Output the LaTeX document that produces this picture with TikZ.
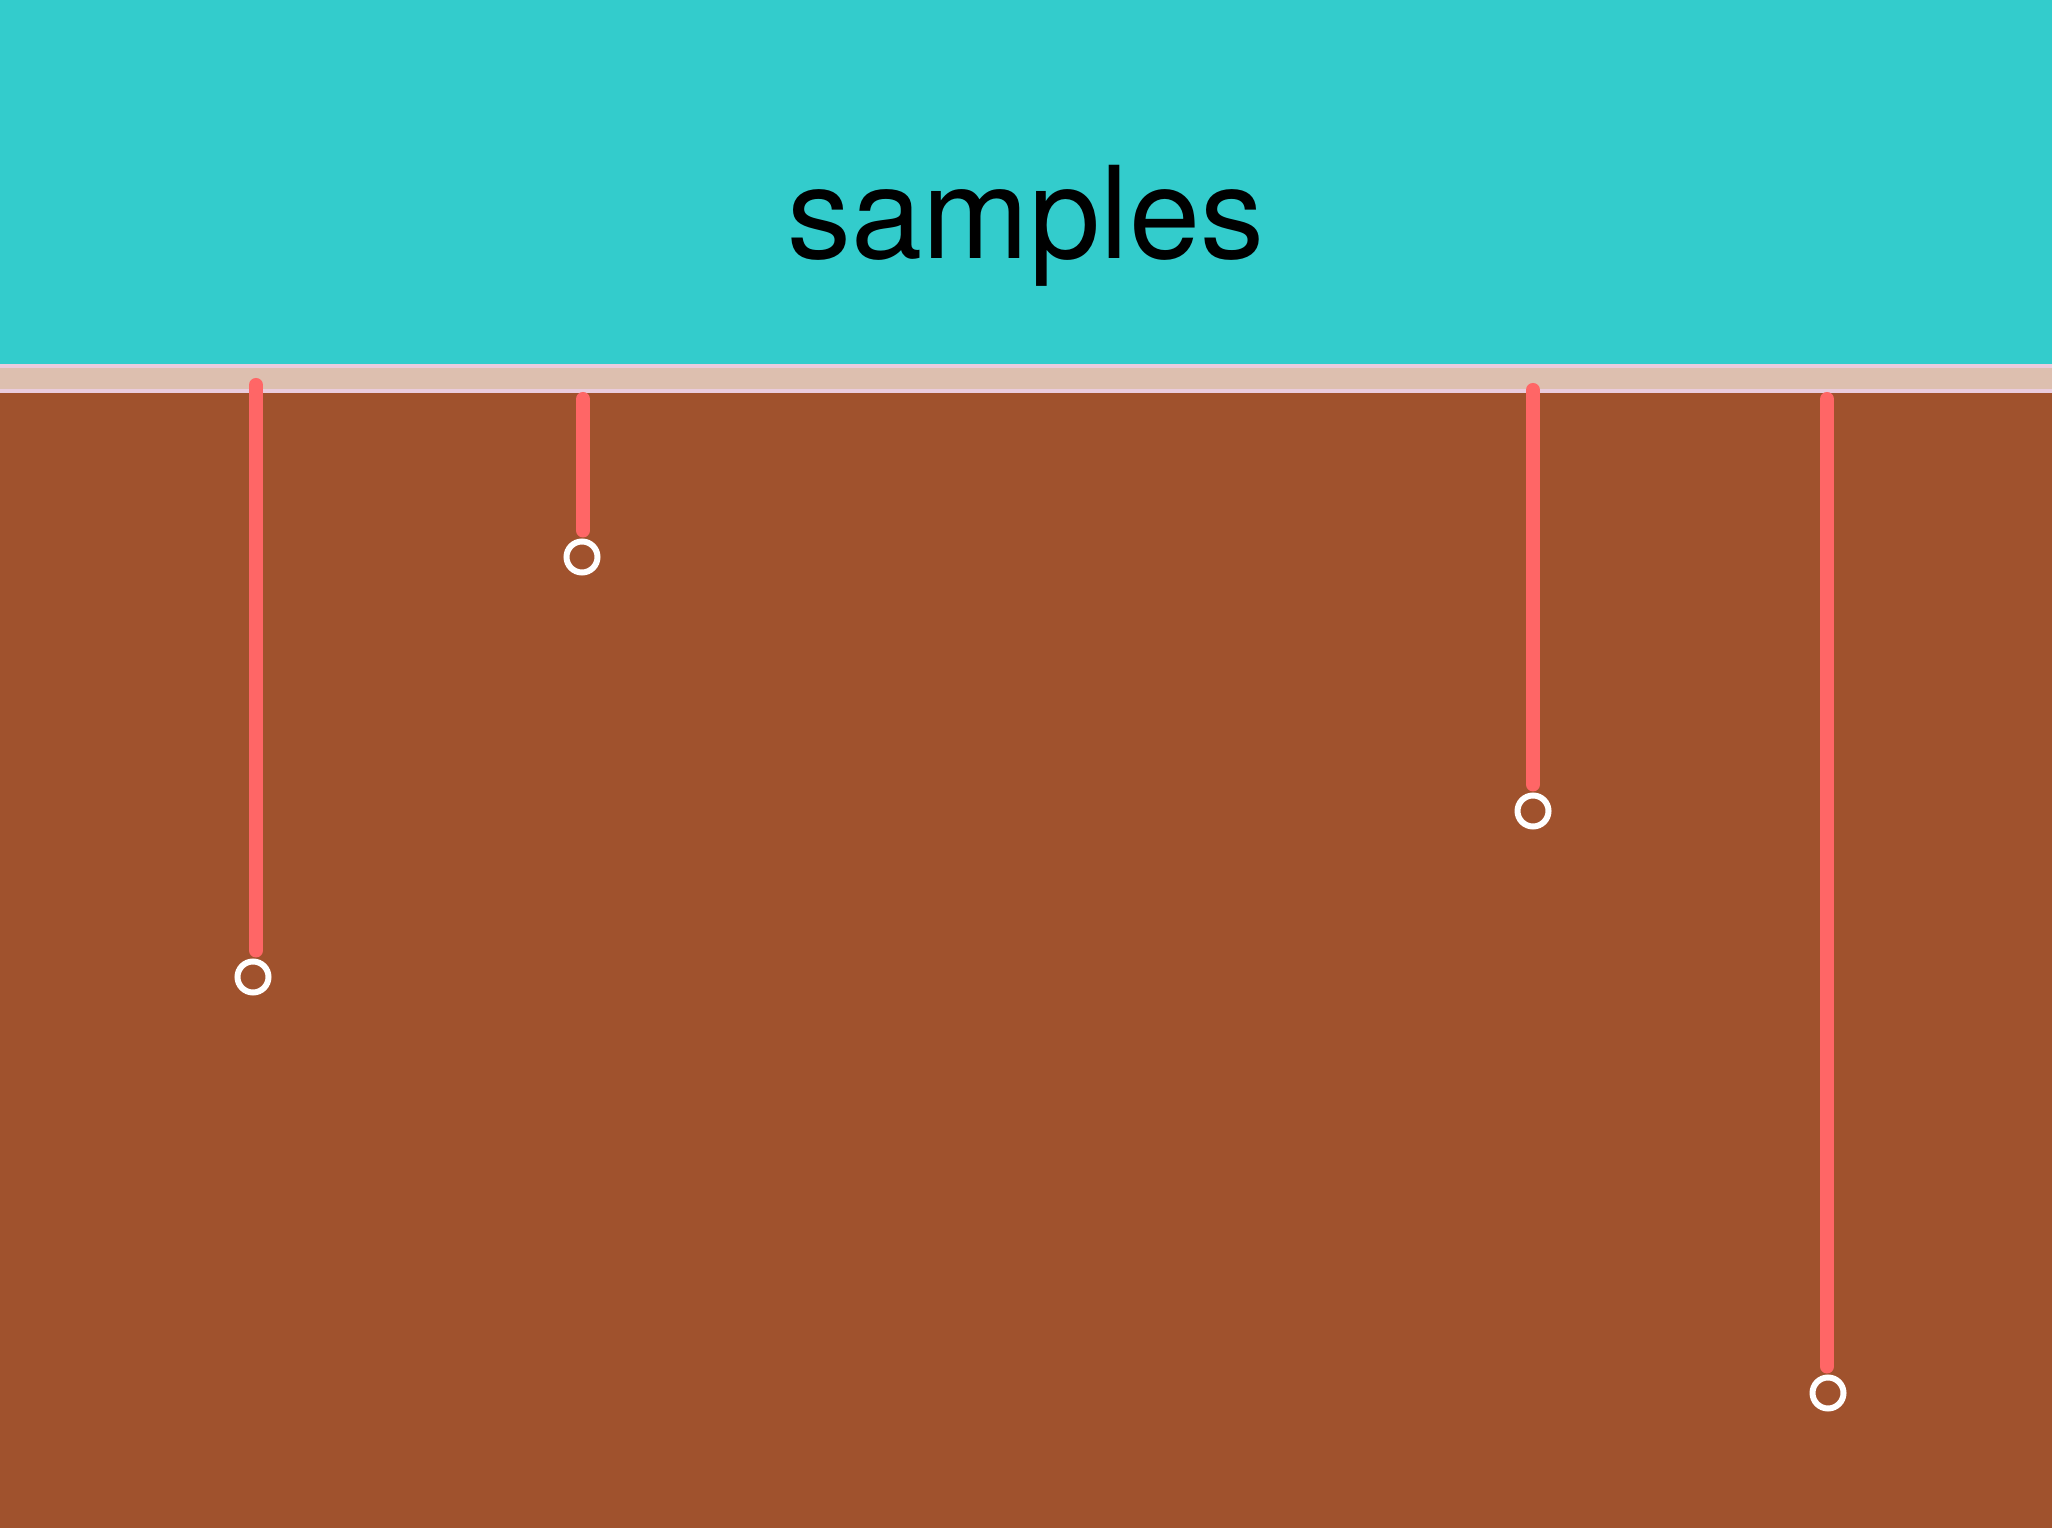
\documentclass[tikz,border=0pt]{standalone}
\usepackage{fontspec}
\setmainfont{TeX Gyre Heros}
\usepackage{tikz}
\usetikzlibrary{positioning, arrows.meta}
\definecolor{skyBand}{HTML}{33CCCC}
\definecolor{soilBrown}{HTML}{A0522D}
\definecolor{stripFill}{HTML}{DDBFAF}
\definecolor{stripEdge}{HTML}{EACCDD}
\definecolor{probeRed}{HTML}{FF6666}
\tikzset{
  probe/.style={draw=probeRed, line width=0.14cm, line cap=round, shorten >=0.08cm},
  tipring/.style={circle, draw=white, line width=0.06cm, minimum size=0.31cm, inner sep=0pt}
}

\begin{document}
\begin{tikzpicture}
  \useasboundingbox (0,0) rectangle (20.52,-15.28);
  % ground and sky
  \fill[soilBrown] (0,-3.78) rectangle (20.52,-15.28);
  \fill[skyBand] (0,0) rectangle (20.52,-3.64);
  \draw[stripEdge, fill=stripFill, line width=0.045cm] (-0.1,-3.66) rectangle (20.62,-3.91);
  \node[font=\fontsize{36.4}{40}\selectfont, anchor=base] (title) at (10.26,-2.59) {samples};
  % sample tips
  \node[tipring] (tipA) at (2.53,-9.77) {};
  \node[tipring] (tipB) at (5.82,-5.57) {};
  \node[tipring] (tipC) at (15.33,-8.11) {};
  \node[tipring] (tipD) at (18.28,-13.93) {};
  % tops of the probes
  \coordinate (topA) at (2.56,-3.85);
  \coordinate (topB) at (5.83,-3.99);
  \coordinate (topC) at (15.33,-3.90);
  \coordinate (topD) at (18.27,-3.99);
  \draw[probe] (topA) -- (topA |- tipA.north);
  \draw[probe] (topB) -- (topB |- tipB.north);
  \draw[probe] (topC) -- (topC |- tipC.north);
  \draw[probe] (topD) -- (topD |- tipD.north);
\end{tikzpicture}
\end{document}
